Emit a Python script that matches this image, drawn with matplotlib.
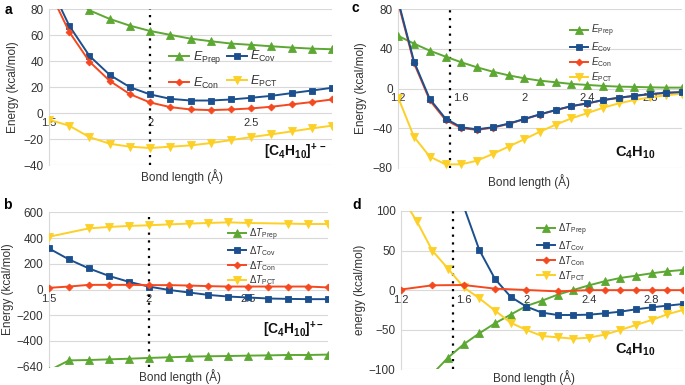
import matplotlib
matplotlib.use('Agg')
import matplotlib.pyplot as plt

plt.rcParams['font.family'] = ['Liberation Sans', 'DejaVu Sans']
plt.rcParams['mathtext.fontset'] = 'custom'
plt.rcParams['mathtext.rm'] = 'Liberation Sans'
plt.rcParams['mathtext.it'] = 'Liberation Sans:italic'
plt.rcParams['mathtext.bf'] = 'Liberation Sans:bold'

# ---------------- data ----------------
# panel a : [C4H10]+-  energies
x_a = [1.5, 1.6, 1.7, 1.8, 1.9, 2.0, 2.1, 2.2, 2.3, 2.4, 2.5, 2.6, 2.7, 2.8, 2.9]
a_prep = [110, 92, 79.2, 72.6, 67.4, 63.3, 60.3, 57.4, 55.4, 53.6, 52.6, 51.5, 50.5, 49.7, 49.2]
a_cov = [100, 67.4, 44.1, 29.5, 20.0, 14.4, 11.0, 9.7, 9.7, 10.5, 11.8, 13.3, 15.4, 17.4, 19.5]
a_con = [95, 62.6, 39.7, 24.9, 14.6, 8.2, 4.6, 2.8, 2.3, 2.8, 3.6, 4.9, 6.7, 8.5, 10.5]
a_pct = [-5.1, -9.7, -18.5, -23.6, -25.9, -26.9, -25.9, -24.9, -23.1, -20.8, -18.5, -16.4, -14.1, -11.8, -9.7]

# panel b : [C4H10]+-  kinetic energy changes
x_b = [1.5, 1.6, 1.7, 1.8, 1.9, 2.0, 2.1, 2.2, 2.3, 2.4, 2.5, 2.6, 2.7, 2.8, 2.9]
b_prep = [-630, -551, -548, -543, -538, -532, -527, -522, -519, -517, -514, -512, -509, -509, -506]
b_cov = [319, 234, 164, 106, 60, 23, -3, -23, -42, -55, -62, -70, -73, -75, -75]
b_con = [13, 23, 36, 36, 36, 34, 34, 31, 26, 23, 23, 23, 23, 23, 16]
x_b_pct = [1.5, 1.7, 1.8, 1.9, 2.0, 2.1, 2.2, 2.3, 2.4, 2.5, 2.7, 2.8, 2.9]
b_pct = [410, 475, 486, 494, 499, 506, 512, 517, 522, 517, 512, 509, 509]

# panel c : C4H10 energies
x_c = [1.2, 1.3, 1.4, 1.5, 1.6, 1.7, 1.8, 1.9, 2.0, 2.1, 2.2, 2.3, 2.4, 2.5, 2.6, 2.7, 2.8, 2.9, 3.0]
c_prep = [53.1, 45.3, 38.2, 32.2, 26.5, 21.4, 17.0, 13.3, 10.3, 7.9, 6.3, 4.6, 3.6, 2.6, 1.9, 1.6, 1.2, 0.9, 0.9]
c_cov = [88, 27.1, -10.6, -30.4, -39.2, -41.2, -39.2, -35.5, -30.8, -26.1, -21.7, -17.7, -15.0, -11.6, -9.3, -7.3, -5.6, -4.3, -3.6]
c_con = [86, 25.5, -12.0, -31.8, -40.0, -41.8, -39.6, -35.8, -31.0, -26.3, -21.9, -17.9, -15.2, -11.8, -9.5, -7.5, -5.8, -4.5, -3.8]
c_pct = [-9.4, -49.0, -68.8, -76.6, -76.6, -72.9, -66.1, -58.7, -51.3, -43.6, -36.5, -30.1, -24.9, -19.5, -15.0, -11.6, -8.9, -6.9, -5.2]

# panel d : C4H10 kinetic energy changes
x_d_prep = [1.4, 1.5, 1.6, 1.7, 1.8, 1.9, 2.0, 2.1, 2.2, 2.3, 2.4, 2.5, 2.6, 2.7, 2.8, 2.9, 3.0]
d_prep = [-106, -85.3, -68.4, -54.5, -41.9, -30.9, -20.0, -13.3, -5.7, 0.2, 6.1, 11.2, 15.4, 18.3, 21.3, 23.8, 25.5]
x_d_cov = [1.6, 1.7, 1.8, 1.9, 2.0, 2.1, 2.2, 2.3, 2.4, 2.5, 2.6, 2.7, 2.8, 2.9, 3.0]
d_cov = [106, 50.7, 14.1, -8.4, -20.8, -28.4, -31.4, -31.4, -31.0, -29.3, -27.2, -24.2, -21.7, -19.6, -17.5]
x_d_con = [1.2, 1.4, 1.6, 1.8, 2.0, 2.2, 2.4, 2.5, 2.6, 2.7, 2.8, 2.9, 3.0]
d_con = [0.8, 6.1, 6.5, 1.9, 0.2, -1.5, 0.0, 0.0, 0.0, 0.0, 0.0, 0.0, 0.0]
x_d_pct = [1.2, 1.3, 1.4, 1.5, 1.6, 1.7, 1.8, 1.9, 2.0, 2.1, 2.2, 2.3, 2.4, 2.5, 2.6, 2.7, 2.8, 2.9, 3.0]
d_pct = [119, 87.4, 49.9, 27.2, 3.6, -10.3, -25.9, -41.1, -50.3, -57.9, -59.6, -61.3, -60.0, -56.2, -50.3, -44.0, -37.7, -30.5, -25.0]

labels_E = [r'$E_{\mathrm{Prep}}$', r'$E_{\mathrm{Cov}}$', r'$E_{\mathrm{Con}}$', r'$E_{\mathrm{PCT}}$']
labels_T = [r'$\Delta T_{\mathrm{Prep}}$', r'$\Delta T_{\mathrm{Cov}}$', r'$\Delta T_{\mathrm{Con}}$', r'$\Delta T_{\mathrm{PCT}}$']

GREEN = '#5DA832'
BLUE = '#1B4F8E'
RED = '#F5481F'
YELLOW = '#FCD026'
GRID = '#d9d9d9'
TXT = '#333333'

styles = {
    'prep': dict(color=GREEN, marker='^', ms=5.5),
    'cov': dict(color=BLUE, marker='s', ms=5.0),
    'con': dict(color=RED, marker='D', ms=3.5),
    'pct': dict(color=YELLOW, marker='v', ms=5.5),
}

W, H = 685, 385
fig = plt.figure(figsize=(W / 100, H / 100), dpi=100)


def make_ax(l, r, t, b):
    return fig.add_axes([l / W, 1 - b / H, (r - l) / W, (b - t) / H])


def style(ax, xlim, ylim, yticks, xticks, xticklabels, ytl=None):
    ax.set_xlim(*xlim)
    ax.set_ylim(*ylim)
    ax.set_yticks(yticks)
    if ytl is not None:
        ax.set_yticklabels(ytl)
    ax.set_xticks(xticks)
    ax.set_xticklabels(xticklabels)
    for s in ['top', 'right']:
        ax.spines[s].set_visible(False)
    ax.spines['left'].set_color(GRID)
    ax.spines['bottom'].set_position(('data', 0))
    ax.spines['bottom'].set_visible(False)
    ax.grid(axis='y', color=GRID, lw=0.8)
    ax.set_axisbelow(True)
    ax.tick_params(axis='y', length=0, pad=4, labelsize=8.5, labelcolor=TXT)
    ax.tick_params(axis='x', length=0, pad=3.5, labelsize=8, labelcolor=TXT)


def line(ax, x, y, key, z):
    st = styles[key]
    ln, = ax.plot(x, y, color=st['color'], lw=1.4, marker=st['marker'], ms=st['ms'],
                  mec=st['color'], mew=0.6, zorder=z)
    return ln


def small_legend(ax, handles, labels, x, y):
    ax.legend(handles, labels, ncol=1, loc='upper left', bbox_to_anchor=(x, y), frameon=False,
              fontsize=7, handlelength=1.9, labelspacing=0.12, handletextpad=0.3,
              borderpad=0, borderaxespad=0, labelcolor=TXT)


# ---------- panel a ----------
ax = make_ax(49, 332, 9.3, 165)
style(ax, (1.5, 2.9), (-40, 80), [-40, -20, 0, 20, 40, 60, 80], [1.5, 2, 2.5], ['1.5', '2', '2.5'])
ax.axvline(2.0, color='black', ls=(0, (1, 2.5)), lw=1.6, zorder=1)
hp = line(ax, x_a, a_prep, 'prep', 3)
hv = line(ax, x_a, a_cov, 'cov', 3)
hc = line(ax, x_a, a_con, 'con', 4)
ht = line(ax, x_a, a_pct, 'pct', 3)
# column-major order so rows read: Prep, Cov / Con, PCT
ax.legend([hp, hc, hv, ht], [labels_E[0], labels_E[2], labels_E[1], labels_E[3]], ncol=2,
          loc='upper left', bbox_to_anchor=(0.425, 0.745), frameon=False,
          fontsize=9, handlelength=1.6, columnspacing=0.4, labelspacing=0.75, handletextpad=0.3,
          borderpad=0, borderaxespad=0, labelcolor=TXT)
ax.text(0.98, 0.022, r'$\mathbf{[C_4H_{10}]^{+\,-}}$', transform=ax.transAxes, ha='right',
        va='bottom', fontsize=10, color='#111111')
ax.text(0.47, -0.075, 'Bond length (Å)', transform=ax.transAxes, ha='center', va='center',
        fontsize=8.5, color=TXT)
ax.set_ylabel('Energy (kcal/mol)', fontsize=8.5, color=TXT, labelpad=3)
fig.text(5 / W, 1 - 3 / H, 'a', fontsize=10, fontweight='bold', va='top', ha='left')

# ---------- panel b ----------
ax = make_ax(49, 328, 212.3, 366.7)
style(ax, (1.5, 2.9), (-600, 600), [-600, -400, -200, 0, 200, 400, 600], [1.5, 2, 2.5],
      ['1.5', '2', '2.5'], ytl=['−640', '−400', '−200', '0', '200', '400', '600'])
ax.axvline(2.0, color='black', ls=(0, (1, 2.5)), lw=1.6, zorder=1)
h = [line(ax, x_b, b_prep, 'prep', 3), line(ax, x_b, b_cov, 'cov', 3),
     line(ax, x_b, b_con, 'con', 4), line(ax, x_b_pct, b_pct, 'pct', 3)]
small_legend(ax, h, labels_T, 0.64, 0.91)
ax.text(0.985, 0.17, r'$\mathbf{[C_4H_{10}]^{+-}}$', transform=ax.transAxes, ha='right',
        va='bottom', fontsize=10, color='#111111')
ax.text(0.47, -0.065, 'Bond length (Å)', transform=ax.transAxes, ha='center', va='center',
        fontsize=8.5, color=TXT)
ax.set_ylabel('Energy (kcal/mol)', fontsize=8.5, color=TXT, labelpad=2)
fig.text(3 / W, 1 - 198 / H, 'b', fontsize=10, fontweight='bold', va='top', ha='left')

# ---------- panel c ----------
ax = make_ax(398.3, 681.7, 9.3, 167.7)
style(ax, (1.2, 3.0), (-80, 80), [-80, -40, 0, 40, 80], [1.2, 1.6, 2, 2.4, 2.8],
      ['1.2', '1.6', '2', '2.4', '2.8'])
ax.axvline(1.53, color='black', ls=(0, (1, 2.5)), lw=1.6, zorder=1)
h = [line(ax, x_c, c_prep, 'prep', 3), line(ax, x_c, c_cov, 'cov', 4),
     line(ax, x_c, c_con, 'con', 3), line(ax, x_c, c_pct, 'pct', 3)]
small_legend(ax, h, labels_E, 0.605, 0.915)
ax.text(0.835, 0.04, r'$\mathbf{C_4H_{10}}$', transform=ax.transAxes, ha='center',
        va='bottom', fontsize=10.5, color='#111111')
ax.text(0.46, -0.085, 'Bond length (Å)', transform=ax.transAxes, ha='center', va='center',
        fontsize=8.5, color=TXT)
ax.set_ylabel('Energy (kcal/mol)', fontsize=8.5, color=TXT, labelpad=4)
fig.text(352 / W, 1 - 1 / H, 'c', fontsize=10, fontweight='bold', va='top', ha='left')

# ---------- panel d ----------
ax = make_ax(401, 683, 211, 369.3)
style(ax, (1.2, 3.0), (-100, 100), [-100, -50, 0, 50, 100], [1.2, 1.6, 2, 2.4, 2.8],
      ['1.2', '1.6', '2', '2.4', '2.8'])
ax.axvline(1.53, color='black', ls=(0, (1, 2.5)), lw=1.6, zorder=1)
h = [line(ax, x_d_prep, d_prep, 'prep', 3), line(ax, x_d_cov, d_cov, 'cov', 3),
     line(ax, x_d_con, d_con, 'con', 4), line(ax, x_d_pct, d_pct, 'pct', 3)]
small_legend(ax, h, labels_T, 0.482, 0.935)
ax.text(0.83, 0.07, r'$\mathbf{C_4H_{10}}$', transform=ax.transAxes, ha='center',
        va='bottom', fontsize=10.5, color='#111111')
ax.text(0.47, -0.055, 'Bond length (Å)', transform=ax.transAxes, ha='center', va='center',
        fontsize=8.5, color=TXT)
ax.set_ylabel('energy (kcal/mol)', fontsize=8.5, color=TXT, labelpad=2)
fig.text(352 / W, 1 - 198 / H, 'd', fontsize=10, fontweight='bold', va='top', ha='left')

fig.savefig('out.png', dpi=100)
